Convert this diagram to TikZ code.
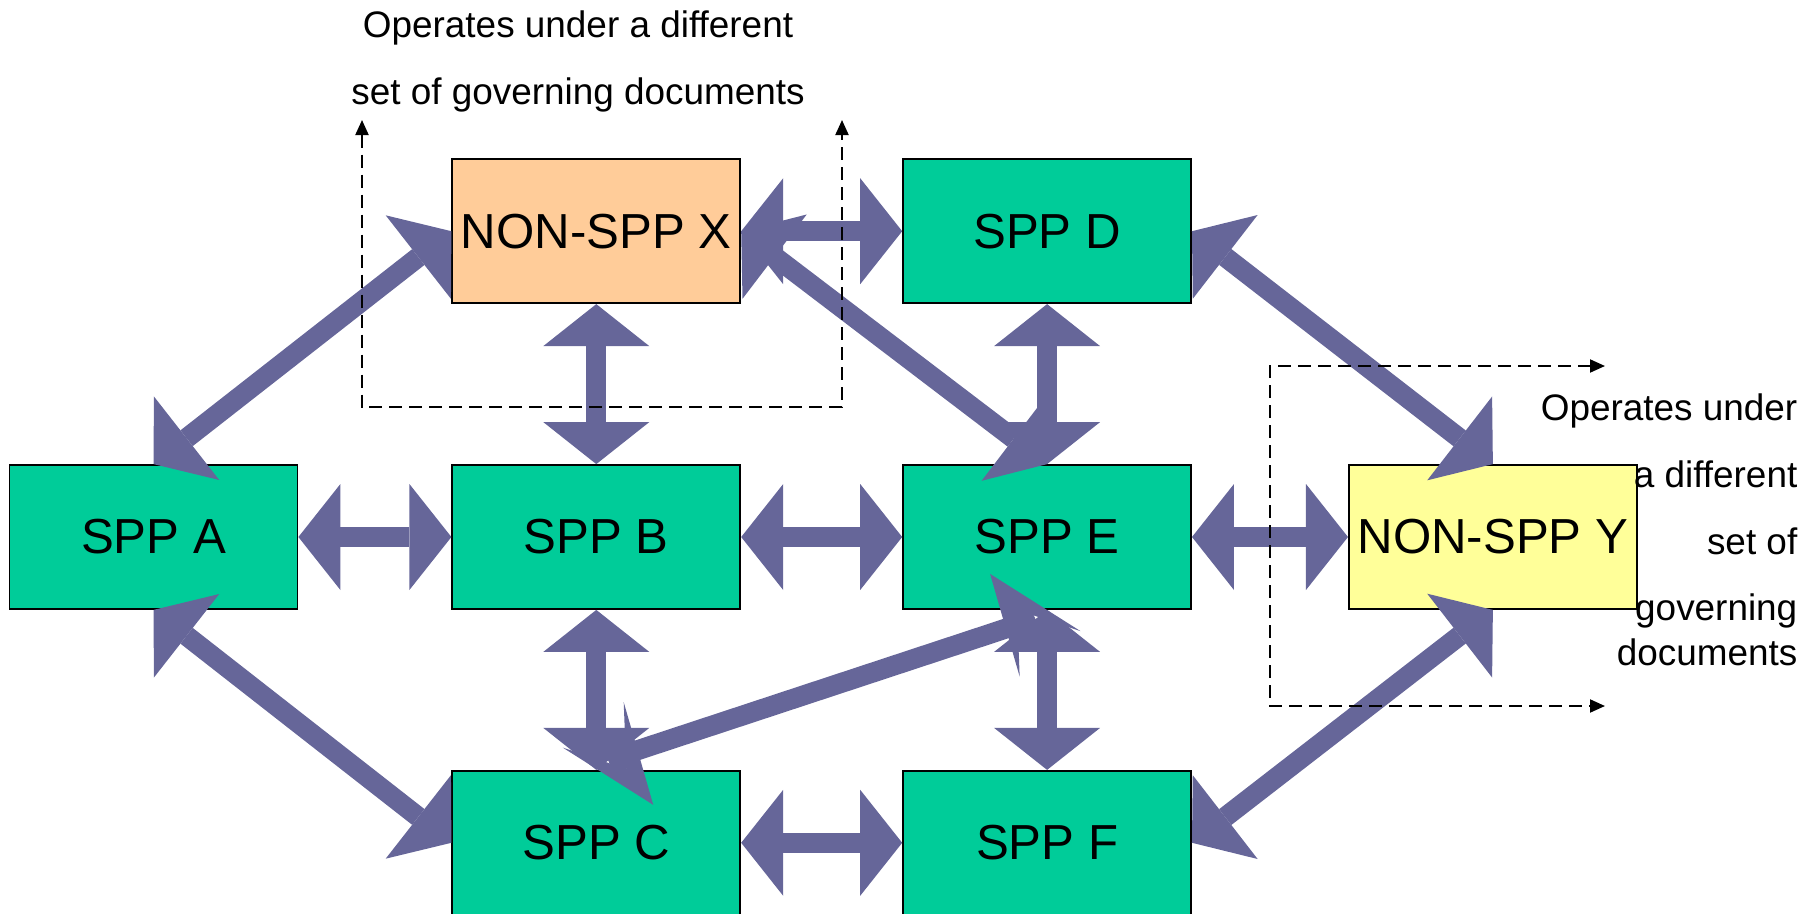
\documentclass[tikz,border=0pt]{standalone}
\usepackage{fontspec}
\setmainfont{Liberation Sans}
\usetikzlibrary{arrows.meta,positioning}

\definecolor{sppgreen}{RGB}{0,204,153}
\definecolor{nonsppx}{RGB}{255,204,153}
\definecolor{nonsppy}{RGB}{255,255,153}
\definecolor{linkblue}{RGB}{102,102,153}

\begin{document}
\begin{tikzpicture}[x=0.1mm,y=-0.1mm,>={Triangle[length=4.2mm,width=10.6mm,line width=0pt]},
                    node distance=16mm]
	  \tikzstyle{spp}=[draw=black,line width=0.18mm,fill=sppgreen,minimum width=28.8mm,
	                   minimum height=14.4mm,inner sep=0pt,font=\fontsize{14}{17}\selectfont]
	  \tikzstyle{link}=[<->,color=linkblue,line width=2mm]
	  \tikzstyle{bentlink}=[color=linkblue,line width=2mm,line join=round,
	                   {Stealth[length=10mm,width=7.6mm,inset=5.5mm,line width=0pt]}-{Stealth[length=10mm,width=7.6mm,inset=5.5mm,line width=0pt]}]
	  \tikzstyle{govline}=[{Triangle[length=1.5mm,width=1.3mm]}-{Triangle[length=1.5mm,width=1.3mm]},
	                   dash pattern=on 1.3mm off 0.7mm,line width=0.2mm]
	  \tikzstyle{govtext}=[inner sep=0pt,font=\fontsize{10.5}{19}\selectfont]

	  \useasboundingbox (0,0) rectangle (1804,914);

	  \node[spp]               (A) at (153.5,537)      {SPP A};
	  \node[spp]               (B) [right=15.3mm of A] {SPP B};
	  \node[spp]               (E) [right=16.1mm of B] {SPP E};
	  \node[spp,fill=nonsppy]  (Y) [right=15.6mm of E] {NON-SPP Y};

	  \node[spp,fill=nonsppx]  (X) [above=of B]        {NON-SPP X};
	  \node[spp]               (D) [above=of E]        {SPP D};
	  \node[spp]               (C) [below=of B]        {SPP C};
	  \node[spp]               (F) [below=of E]        {SPP F};

	  \path[link] (A) edge (B)
	        (B) edge (E)
	        (E) edge (Y)
	        (X) edge (D) edge (B)
	        (C) edge (F)
	        (B) edge (C)
	        (D) edge (E)
	        (E) edge (F)
	        (A.north) edge (X.west)
	        (A.south) edge (C.west)
	        (X.east) edge (E.north)
	        (D.east) edge (Y.north)
	        (F.east) edge (Y.south);

	  \draw[bentlink] ([shift={(57,35)}]C.north) -- ++(-36,-48)
	        -- ([shift={(-21,12)}]E.south) -- ([shift={(-57,-36)}]E.south);

	  \coordinate (xtl) at (362,120);
	  \coordinate (xbl) at (362,407);
	  \coordinate (xbr) at (842,407);
	  \coordinate (xtr) at (842,120);
	  \coordinate (ytr) at (1605,366);
	  \coordinate (ytl) at (1270,366);
	  \coordinate (ybl) at (1270,706);
	  \coordinate (ybr) at (1605,706);

	  \draw[govline] (xtl) -- (xbl) -- (xbr) -- (xtr);
	  \draw[govline] (ytr) -- (ytl) -- (ybl) -- (ybr);

	  \node[govtext,anchor=north,align=center] (govX) at (578,10)
	        {Operates under a different\\set of governing documents};
	  \node[govtext,anchor=north east,align=right] (govY) at (1798,393)
	        {Operates under\\a different\\set of\\governing\\[-6.2pt]documents};
\end{tikzpicture}
\end{document}
